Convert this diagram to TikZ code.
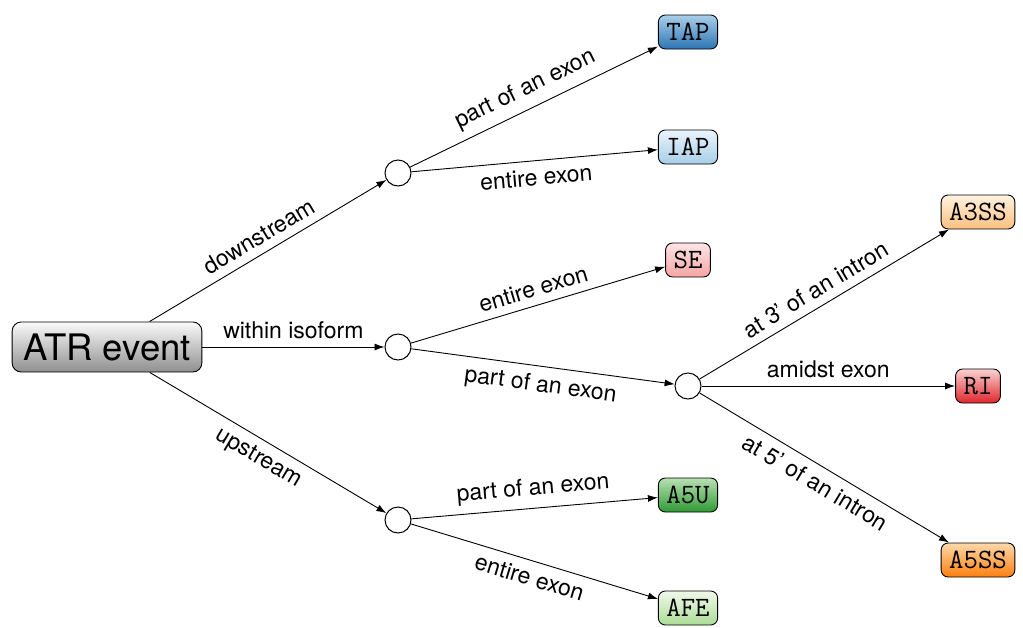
\documentclass[tikz,border=0pt]{standalone}
\usepackage{fontspec}
\setmainfont{TeX Gyre Heros}
\setmonofont{Latin Modern Mono}
\usetikzlibrary{arrows.meta,shadings}
\definecolor{tapT}{HTML}{A9CFEA}\definecolor{tapB}{HTML}{2C75B3}
\definecolor{iapT}{HTML}{EAF4FB}\definecolor{iapB}{HTML}{A8CEE7}
\definecolor{seT}{HTML}{FDE6E6}\definecolor{seB}{HTML}{F7A3A3}
\definecolor{riT}{HTML}{FAD2D2}\definecolor{riB}{HTML}{E0262B}
\definecolor{a3T}{HTML}{FFF2E2}\definecolor{a3B}{HTML}{FCC07E}
\definecolor{a5T}{HTML}{FFD9AC}\definecolor{a5B}{HTML}{FF7F0E}
\definecolor{a5uT}{HTML}{B9E0B4}\definecolor{a5uB}{HTML}{2F9A33}
\definecolor{afeT}{HTML}{F0F9EA}\definecolor{afeB}{HTML}{ABDC95}
\definecolor{atrT}{HTML}{FAFAFA}\definecolor{atrB}{HTML}{8F8F8F}
\tikzset{
  leaf/.style={draw=black, line width=0.9pt, rounded corners=7pt, minimum height=34pt,
    inner xsep=8pt, inner ysep=3pt, font=\fontsize{28}{30}\selectfont\ttfamily,
    top color=#1T, bottom color=#1B},
  root/.style={draw=black, line width=0.9pt, rounded corners=9pt, minimum height=50pt,
    inner xsep=11pt, font=\fontsize{36.5}{40}\selectfont,
    top color=atrT, bottom color=atrB},
  hub/.style={draw=black, line width=1pt, circle, minimum size=26pt, inner sep=0pt, fill=white},
  conn/.style={line width=0.9pt, -{Latex[length=10pt,width=7pt]}},
  lab/.style={font=\fontsize{23}{26}\selectfont, sloped, inner sep=8pt},
}
\begin{document}
\begin{tikzpicture}[x=1pt,y=-1pt]
\useasboundingbox (0,0) rectangle (1023,627);
\node[root] (atr) at (107,347) {ATR event};
\node[hub] (c1) at (398,173) {};
\node[hub] (c2) at (398,347) {};
\node[hub] (c3) at (398,520) {};
\node[hub] (c4) at (688,386) {};
\node[leaf=tap] (tap) at (688,32) {TAP};
\node[leaf=iap] (iap) at (688,147) {IAP};
\node[leaf=se] (se) at (688,260) {SE};
\node[leaf=a5u] (a5u) at (688,495) {A5U};
\node[leaf=afe] (afe) at (688,608) {AFE};
\node[leaf=a3] (a3ss) at (978,212) {A3SS};
\node[leaf=ri] (ri) at (978,386) {RI};
\node[leaf=a5] (a5ss) at (978,560) {A5SS};
\draw[conn] (atr) -- node[lab,above] {downstream} (c1);
\draw[conn] (atr) -- node[lab,above] {within isoform} (c2);
\draw[conn] (atr) -- node[lab,below] {upstream} (c3);
\draw[conn] (c1) -- node[lab,above] {part of an exon} (tap);
\draw[conn] (c1) -- node[lab,below] {entire exon} (iap);
\draw[conn] (c2) -- node[lab,above] {entire exon} (se);
\draw[conn] (c2) -- node[lab,below] {part of an exon} (c4);
\draw[conn] (c3) -- node[lab,above] {part of an exon} (a5u);
\draw[conn] (c3) -- node[lab,below] {entire exon} (afe);
\draw[conn] (c4) -- node[lab,above] {at 3' of an intron} (a3ss);
\draw[conn] (c4) -- node[lab,above] {amidst exon} (ri);
\draw[conn] (c4) -- node[lab,below] {at 5' of an intron} (a5ss);
\end{tikzpicture}
\end{document}
